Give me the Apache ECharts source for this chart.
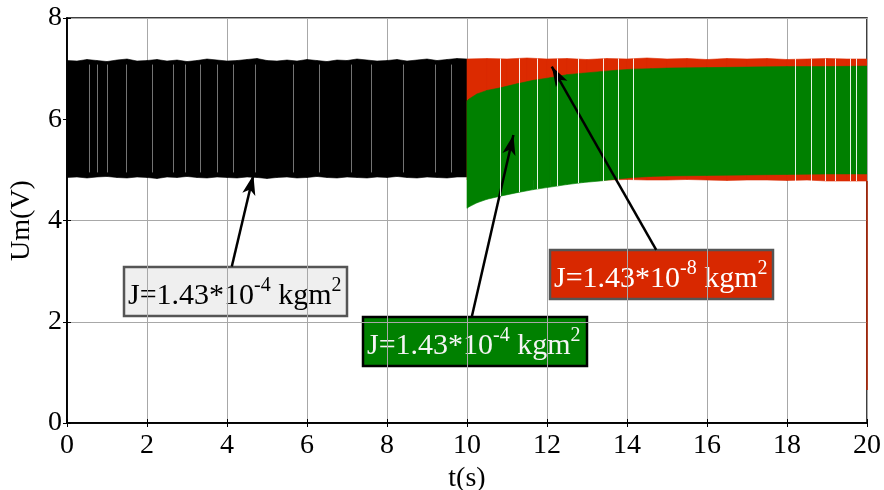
<!DOCTYPE html>
<html><head><meta charset="utf-8">
<script src="https://cdn.jsdelivr.net/npm/echarts@6/dist/echarts.min.js"></script>
<style>html,body{margin:0;padding:0;background:#fff}#c{width:884px;height:490px}</style>
</head><body><div id="c"></div>
<script>
// ---- data ----
const xTickValues = [0, 2, 4, 6, 8, 10, 12, 14, 16, 18, 20];
const yTickValues = [0, 2, 4, 6, 8];

// J = 1.43e-4 (before switching, black) : envelope of the switching signal
const blackT = [0,0.25,0.5,0.75,1,1.25,1.5,1.75,2,2.25,2.5,2.75,3,3.25,3.5,3.75,4,4.25,4.5,4.75,5,5.25,5.5,5.75,6,6.25,6.5,6.75,7,7.25,7.5,7.75,8,8.25,8.5,8.75,9,9.25,9.5,9.75,10];
const blackHigh = [7.16,7.15,7.18,7.16,7.14,7.17,7.19,7.15,7.16,7.18,7.15,7.17,7.14,7.16,7.19,7.17,7.15,7.16,7.18,7.20,7.16,7.15,7.17,7.15,7.18,7.16,7.14,7.17,7.16,7.19,7.17,7.15,7.16,7.18,7.15,7.17,7.19,7.16,7.18,7.20,7.19];
const blackLow  = [4.85,4.86,4.84,4.86,4.87,4.85,4.84,4.86,4.85,4.83,4.86,4.85,4.87,4.85,4.84,4.86,4.85,4.84,4.86,4.85,4.83,4.85,4.86,4.84,4.85,4.87,4.85,4.84,4.86,4.85,4.84,4.86,4.85,4.87,4.85,4.84,4.86,4.85,4.84,4.86,4.86];
// light stripes (gaps in the switching) visible inside the black band
const blackGapT = [0.55,0.75,1.0,1.48,2.13,2.65,2.95,3.33,3.75,4.15,4.7,5.65,6.3,7.1,7.6,8.4,9.2,9.6];

// J = 1.43e-8 (red)
const redT    = [10,10.5,11,11.5,12,12.5,13,13.5,14,14.5,15,15.5,16,16.5,17,17.5,18,18.5,19,19.5,20];
const redHigh = [7.19,7.20,7.19,7.21,7.19,7.20,7.18,7.20,7.19,7.21,7.19,7.20,7.18,7.20,7.19,7.20,7.18,7.19,7.20,7.19,7.19];
const redLow  = [4.80,4.80,4.81,4.80,4.80,4.81,4.80,4.80,4.81,4.80,4.80,4.81,4.80,4.79,4.80,4.80,4.79,4.80,4.78,4.78,4.78];
const redTailT = [20, 20];
const redTailV = [4.78, 0.65];

// J = 1.43e-4 (green, after step)
const greenT    = [10,10.05,10.25,10.5,10.83,11.25,11.66,12.08,12.5,12.9,13.33,13.75,14.15,14.6,15,16,17,18,19,20];
const greenHigh = [6.36,6.40,6.50,6.57,6.62,6.70,6.77,6.82,6.88,6.91,6.94,6.97,6.99,7.00,7.01,7.02,7.03,7.04,7.04,7.05];
const greenLow  = [4.24,4.27,4.35,4.42,4.48,4.55,4.61,4.66,4.71,4.75,4.78,4.82,4.85,4.87,4.88,4.89,4.90,4.91,4.92,4.92];
// white stripes through the red/green band: time, bottom, top
const gapT    = [10.83,11.3,11.75,12.25,12.78,13.4,13.78,14.15,18.2,18.6,18.95,19.2,19.58,19.72];
const gapLow  = [4.48,4.56,4.62,4.68,4.74,4.78,4.79,4.79,4.78,4.78,4.78,4.78,4.78,4.78];
const gapHigh = [7.20,7.20,7.20,7.20,7.20,7.20,7.20,7.20,7.20,7.20,7.20,7.20,7.20,7.20];

// ---- chart ----
const FONT = 'Liberation Serif';
function bandData(t, lo, hi) {
  const d = [];
  for (let i = 0; i < t.length - 1; i++) d.push([t[i], lo[i], hi[i], t[i+1], lo[i+1], hi[i+1]]);
  return d;
}
function bandSeries(name, t, lo, hi, color, z) {
  return {
    type: 'custom', name: name, z: z, animation: false, clip: true,
    data: bandData(t, lo, hi),
    encode: { x: [0, 3], y: [1, 2, 4, 5] },
    renderItem: function (params, api) {
      const a = api.coord([api.value(0), api.value(1)]);
      const b = api.coord([api.value(0), api.value(2)]);
      const c = api.coord([api.value(3), api.value(5)]);
      const d = api.coord([api.value(3), api.value(4)]);
      return { type: 'polygon', shape: { points: [a, b, c, d] },
               style: { fill: color, stroke: color, lineWidth: 0.6 } };
    }
  };
}
function stripeSeries(name, data, color, opacity, z) {
  return {
    type: 'custom', name: name, z: z, animation: false, clip: true, silent: true,
    data: data, encode: { x: 0, y: [1, 2] },
    renderItem: function (params, api) {
      const p0 = api.coord([api.value(0), api.value(1)]);
      const p1 = api.coord([api.value(0), api.value(2)]);
      return { type: 'line', shape: { x1: Math.round(p0[0]) + 0.5, y1: p0[1], x2: Math.round(p0[0]) + 0.5, y2: p1[1] },
               style: { stroke: color, lineWidth: 1, opacity: opacity } };
    }
  };
}

const chart = echarts.init(document.getElementById('c'), null, { renderer: 'canvas' });
const axisCommon = {
  type: 'value',
  axisLine: { show: true, lineStyle: { color: '#000', width: 1.5 } },
  axisTick: { show: true, inside: true, length: 4, lineStyle: { color: '#000', width: 1 } }
};
const arrowStyle = { color: '#000', width: 2.5, type: 'solid' };

chart.setOption({
  animation: false,
  backgroundColor: '#fff',
  grid: { left: 67, right: 17, top: 18, bottom: 67, outerBoundsMode: 'none', containLabel: false,
          show: true, borderColor: '#000', borderWidth: 1.5, backgroundColor: 'transparent' },
  xAxis: [
    Object.assign({}, axisCommon, {
      min: xTickValues[0], max: xTickValues[xTickValues.length - 1], interval: xTickValues[1] - xTickValues[0],
      position: 'bottom',
      axisLabel: { color: '#000', fontFamily: FONT, fontSize: 28, margin: 9 },
      splitLine: { show: true, lineStyle: { color: '#a8a8a8', width: 1 } },
      name: 't(s)', nameLocation: 'middle', nameGap: 38,
      nameTextStyle: { color: '#000', fontFamily: FONT, fontSize: 28 }
    }),
    Object.assign({}, axisCommon, {
      min: xTickValues[0], max: xTickValues[xTickValues.length - 1], interval: xTickValues[1] - xTickValues[0],
      position: 'top', axisLabel: { show: false }, splitLine: { show: false }
    })
  ],
  yAxis: [
    Object.assign({}, axisCommon, {
      min: yTickValues[0], max: yTickValues[yTickValues.length - 1], interval: yTickValues[1] - yTickValues[0],
      position: 'left',
      axisLabel: { color: '#000', fontFamily: FONT, fontSize: 28, margin: 5 },
      splitLine: { show: true, lineStyle: { color: '#a8a8a8', width: 1 } },
      name: 'Um(V)', nameLocation: 'middle', nameGap: 31,
      nameTextStyle: { color: '#000', fontFamily: FONT, fontSize: 28 }
    }),
    Object.assign({}, axisCommon, {
      min: yTickValues[0], max: yTickValues[yTickValues.length - 1], interval: yTickValues[1] - yTickValues[0],
      position: 'right', axisLabel: { show: false }, splitLine: { show: false }
    })
  ],
  series: [
    bandSeries('J=1.43e-4 (0-10 s)', blackT, blackLow, blackHigh, '#000000', 2),
    stripeSeries('black gaps', blackGapT.map(t => [t, 4.95, 7.08]), '#ffffff', 0.45, 2),
    bandSeries('J=1.43e-8', redT, redLow, redHigh, '#dc2a00', 3),
    {
      type: 'line', name: 'red tail', z: 3, animation: false, symbol: 'none',
      data: redTailT.map((t, i) => [t, redTailV[i]]),
      lineStyle: { color: '#b52200', width: 1.5 }
    },
    bandSeries('J=1.43e-4 (10-20 s)', greenT, greenLow, greenHigh, '#008000', 4),
    stripeSeries('gaps', gapT.map((t, i) => [t, gapLow[i], gapHigh[i]]), '#ffffff', 0.9, 5),
    {
      type: 'line', name: 'arrows', z: 6, animation: false, symbol: 'none', data: [],
      markLine: {
        silent: true, animation: false, symbol: ['none', 'arrow'], symbolSize: [10, 20],
        label: { show: false }, lineStyle: arrowStyle,
        data: [
          [{ coord: [4.12, 3.09] }, { coord: [4.66, 4.90] }],
          [{ coord: [10.12, 2.10] }, { coord: [11.16, 5.69] }],
          [{ coord: [14.73, 3.42] }, { coord: [12.12, 7.04] }]
        ]
      }
    }
  ],
  graphic: [
    makeBox(124, 267, 223, 49, '#efefef', '#555555', '#000000', '-4'),
    makeBox(363, 317, 224, 49, '#008000', '#000000', '#f4f4f4', '-4'),
    makeBox(550, 250, 223, 49, '#d82800', '#555555', '#ffffff', '-8')
  ]
});

function makeBox(x, y, w, h, fill, border, textColor, exp) {
  return {
    type: 'group', x: x, y: y, z: 100,
    children: [
      { type: 'rect', shape: { x: 0, y: 0, width: w, height: h }, style: { fill: fill, stroke: border, lineWidth: 2.5 } },
      { type: 'text', x: 4, y: h / 2 + 2,
        style: {
          text: '{m|J=1.43*10}{s|' + exp + '}{m| kgm}{s|2}',
          align: 'left', verticalAlign: 'middle',
          rich: {
            m: { fontFamily: FONT, fontSize: 30, fill: textColor, lineHeight: 36, verticalAlign: 'bottom' },
            s: { fontFamily: FONT, fontSize: 20, fill: textColor, lineHeight: 36, verticalAlign: 'top' }
          }
        }
      }
    ]
  };
}
</script>
</body></html>
